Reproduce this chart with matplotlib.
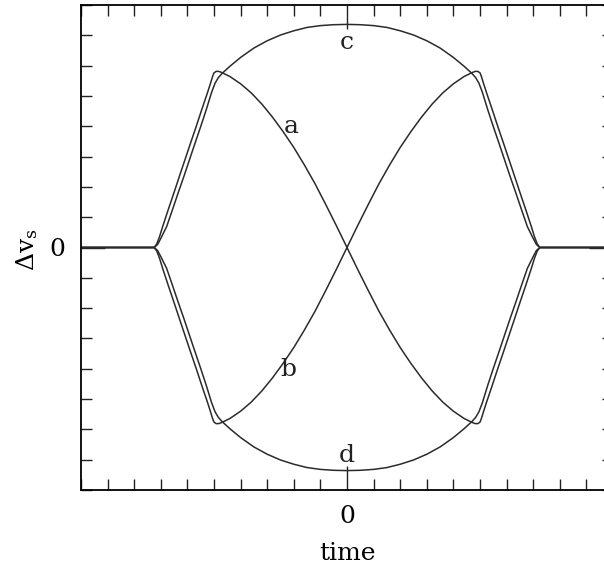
"""Delta v_s against time for the four curves a, b, c and d."""
import matplotlib.pyplot as plt

plt.rcParams['mathtext.fontset'] = 'dejavuserif'
plt.rcParams['font.family'] = ['DejaVu Serif']

# curve a (b is its mirror image)
a_t = [-10.0, -7.25, -7.15, -7.05, -6.93, -6.72, -6.50, -6.30, -6.09, -5.88,
       -5.67, -5.46, -5.24, -5.12, -5.05, -5.00, -4.92, -4.82, -4.70, -4.40,
       -4.00, -3.60, -3.20, -2.80, -2.40, -2.00, -1.60, -1.20, -0.80, -0.40,
       0.0, 0.40, 0.80, 1.20, 1.60, 2.00, 2.40, 2.80, 3.20, 3.60,
       4.00, 4.40, 4.70, 4.82, 4.92, 5.00, 5.05, 5.12, 5.24, 5.46,
       5.67, 5.88, 6.09, 6.30, 6.50, 6.72, 6.93, 7.05, 7.15, 7.25, 10.0]
a_v = [0.0, 0.0, 0.12, 0.35, 0.69, 1.25, 1.82, 2.35, 2.90, 3.45,
       3.99, 4.55, 5.12, 5.45, 5.65, 5.76, 5.81, 5.81, 5.77, 5.64,
       5.40, 5.10, 4.73, 4.30, 3.82, 3.30, 2.72, 2.10, 1.42, 0.72,
       0.0, -0.72, -1.42, -2.10, -2.72, -3.30, -3.82, -4.30, -4.73, -5.10,
       -5.40, -5.64, -5.77, -5.81, -5.81, -5.76, -5.65, -5.45, -5.12, -4.55,
       -3.99, -3.45, -2.90, -2.35, -1.82, -1.25, -0.69, -0.35, -0.12, 0.0, 0.0]
b_t = a_t
b_v = [0.0, 0.0, -0.12, -0.35, -0.69, -1.25, -1.82, -2.35, -2.90, -3.45,
       -3.99, -4.55, -5.12, -5.45, -5.65, -5.76, -5.81, -5.81, -5.77, -5.64,
       -5.40, -5.10, -4.73, -4.30, -3.82, -3.30, -2.72, -2.10, -1.42, -0.72,
       0.0, 0.72, 1.42, 2.10, 2.72, 3.30, 3.82, 4.30, 4.73, 5.10,
       5.40, 5.64, 5.77, 5.81, 5.81, 5.76, 5.65, 5.45, 5.12, 4.55,
       3.99, 3.45, 2.90, 2.35, 1.82, 1.25, 0.69, 0.35, 0.12, 0.0, 0.0]

# envelope curves c (upper) and d (lower)
c_t = [-10.0, -7.25, -7.12, -7.00, -6.78, -6.56, -6.34, -6.13, -5.92, -5.71,
       -5.50, -5.29, -5.09, -4.96, -4.84, -4.70, -4.40, -4.00, -3.50, -3.00,
       -2.50, -2.00, -1.50, -1.00, -0.50, 0.0, 0.50, 1.00, 1.50, 2.00,
       2.50, 3.00, 3.50, 4.00, 4.40, 4.70, 4.84, 4.96, 5.09, 5.29,
       5.50, 5.71, 5.92, 6.13, 6.34, 6.56, 6.78, 7.00, 7.12, 7.25, 10.0]
c_v = [0.0, 0.0, 0.10, 0.30, 0.69, 1.25, 1.82, 2.35, 2.90, 3.45,
       3.99, 4.55, 5.12, 5.42, 5.60, 5.74, 5.98, 6.27, 6.58, 6.82,
       7.01, 7.15, 7.26, 7.32, 7.35, 7.36, 7.35, 7.32, 7.26, 7.15,
       7.01, 6.82, 6.58, 6.27, 5.98, 5.74, 5.60, 5.42, 5.12, 4.55,
       3.99, 3.45, 2.90, 2.35, 1.82, 1.25, 0.69, 0.30, 0.10, 0.0, 0.0]
d_t = c_t
d_v = [0.0, 0.0, -0.10, -0.30, -0.69, -1.25, -1.82, -2.35, -2.90, -3.45,
       -3.99, -4.55, -5.12, -5.42, -5.60, -5.74, -5.98, -6.27, -6.58, -6.82,
       -7.01, -7.15, -7.26, -7.32, -7.35, -7.36, -7.35, -7.32, -7.26, -7.15,
       -7.01, -6.82, -6.58, -6.27, -5.98, -5.74, -5.60, -5.42, -5.12, -4.55,
       -3.99, -3.45, -2.90, -2.35, -1.82, -1.25, -0.69, -0.30, -0.10, 0.0, 0.0]

# curve labels: (text, time, dv)
curve_labels = [('a', -2.10, 3.98), ('b', -2.22, -4.03),
                ('c', 0.0, 6.77), ('d', 0.0, -6.85)]


def main():
    fig = plt.figure(figsize=(6.04, 5.7), dpi=100)
    # axes run a little past the right edge of the figure
    ax = fig.add_axes([81 / 604, 80 / 570, 532 / 604, 485 / 570])

    line_kw = dict(color='#2b2b2b', lw=1.1)
    for t, v in [(a_t, a_v), (b_t, b_v), (c_t, c_v), (d_t, d_v)]:
        ax.plot(t, v, **line_kw)

    for name, t, v in curve_labels:
        ax.text(t, v, name, fontsize=18,
                ha='center', va='center', color='#222222')

    ax.set_xlim(-10, 10)
    ax.set_ylim(-8, 8)
    ax.set_xticks([0])
    ax.set_xticks(range(-10, 11), minor=True)
    ax.set_yticks([0])
    ax.set_yticks(range(-8, 9), minor=True)
    ax.set_xticklabels(['0'])
    ax.set_yticklabels(['0'])
    ax.tick_params(which='both', direction='in', top=True, right=True,
                   width=1.0, color='#222222', labelsize=18, pad=11)
    ax.tick_params(which='major', length=17)
    ax.tick_params(which='minor', length=8)
    for sp in ax.spines.values():
        sp.set_linewidth(1.3)

    fig.text(27 / 604, 1 - 250 / 570, r'$\Delta \mathrm{v}_\mathrm{s}$',
             rotation=90, ha='center', va='center', fontsize=18)
    fig.text(347 / 604, 1 - 553 / 570, 'time',
             ha='center', va='center', fontsize=18)

    fig.savefig('out.png', dpi=100)


if __name__ == '__main__':
    main()
